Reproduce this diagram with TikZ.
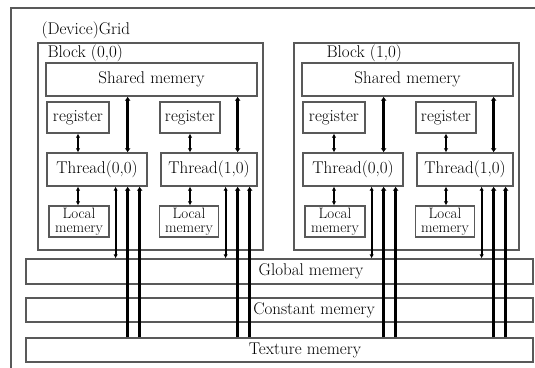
\documentclass[tikz,border=0pt]{standalone}
\usetikzlibrary{arrows.meta}
\begin{document}
\begin{tikzpicture}[x=1pt,y=-1pt,
		font=\fontsize{17}{20}\selectfont,
		box/.style={draw=black!65, line width=1.3pt, inner sep=0pt},
		localbox/.style={box, align=center, font=\fontsize{15}{14}\selectfont},
		thin link/.style={draw=black, line width=1.7pt, {Latex[length=4pt,width=4.5pt]}-{Latex[length=4pt,width=4.5pt]}},
		thick link/.style={draw=black, line width=2.8pt, {Latex[length=4pt,width=6pt]}-{Latex[length=4pt,width=6pt]}},
		thick up/.style={draw=black, line width=2.8pt, -{Latex[length=4pt,width=6pt]}}]
	\useasboundingbox (0,0) rectangle (535,367);
	\clip (0,0) rectangle (535,367);
	% the grid
	\draw[box] (11,8) rectangle (560,390);
	\node[anchor=west] (grid) at (38,30) {(Device)Grid};
	% memories shared by all blocks
	\node[box, minimum width=507, minimum height=25] (global) at (279.5,271.5) {};
	\node (globaltxt) at (311,271.5) {Global memery};
	\node[box, minimum width=507, minimum height=24] (constant) at (279.5,310) {};
	\node (constanttxt) at (314,310) {Constant memery};
	\node[box, minimum width=507, minimum height=24] (texture) at (279.5,350) {};
	\node (texturetxt) at (305,350) {Texture memery};
	% the two blocks
	\foreach \b/\dx/\lx in {0/0/44, 1/256/67} {
		\begin{scope}[xshift=\dx]
			\draw[box] (38,43) rectangle (263,250);
			\node[anchor=west] (blk\b) at (\lx,53) {Block (\b,0)};
			\node[box, minimum width=211, minimum height=33] (shared\b) at (151.5,79.5) {Shared memery};
			\node[box, minimum width=62, minimum height=31] (reg\b0) at (78,117.5) {register};
			\node[box, minimum width=60, minimum height=31] (reg\b1) at (190,117.5) {register};
			\node[box, minimum width=100, minimum height=33] (thr\b0) at (97,169.5) {Thread(0,0)};
			\node[box, minimum width=96, minimum height=33] (thr\b1) at (209,169.5) {Thread(1,0)};
			\node[localbox, minimum width=60, minimum height=31] (loc\b0) at (79,221.5) {Local\\memery};
			\node[localbox, minimum width=59, minimum height=31] (loc\b1) at (189,221.5) {Local\\memery};
		\end{scope}
		\foreach \t in {0,1} {
			\draw[thin link] (reg\b\t) -- (reg\b\t |- thr\b\t.north);
			\draw[thin link] (reg\b\t |- thr\b\t.south) -- (loc\b\t.north -| reg\b\t);
			\coordinate (s\b\t) at ([xshift=-20pt]thr\b\t.north east);
			\draw[thick link] (shared\b.south -| s\b\t) -- (s\b\t);
			% links down to the device memories
			\coordinate (g\b\t) at ([xshift=-32pt]thr\b\t.south east);
			\coordinate (c\b\t) at ([xshift=-20pt]thr\b\t.south east);
			\coordinate (x\b\t) at ([xshift=-8pt]thr\b\t.south east);
			\draw[thin link] (g\b\t) -- (g\b\t |- global.north);
			\draw[thick up] (c\b\t |- texture.north) -- (c\b\t);
			\draw[thick up] (x\b\t |- texture.north) -- (x\b\t);
		}
	}
\end{tikzpicture}
\end{document}
